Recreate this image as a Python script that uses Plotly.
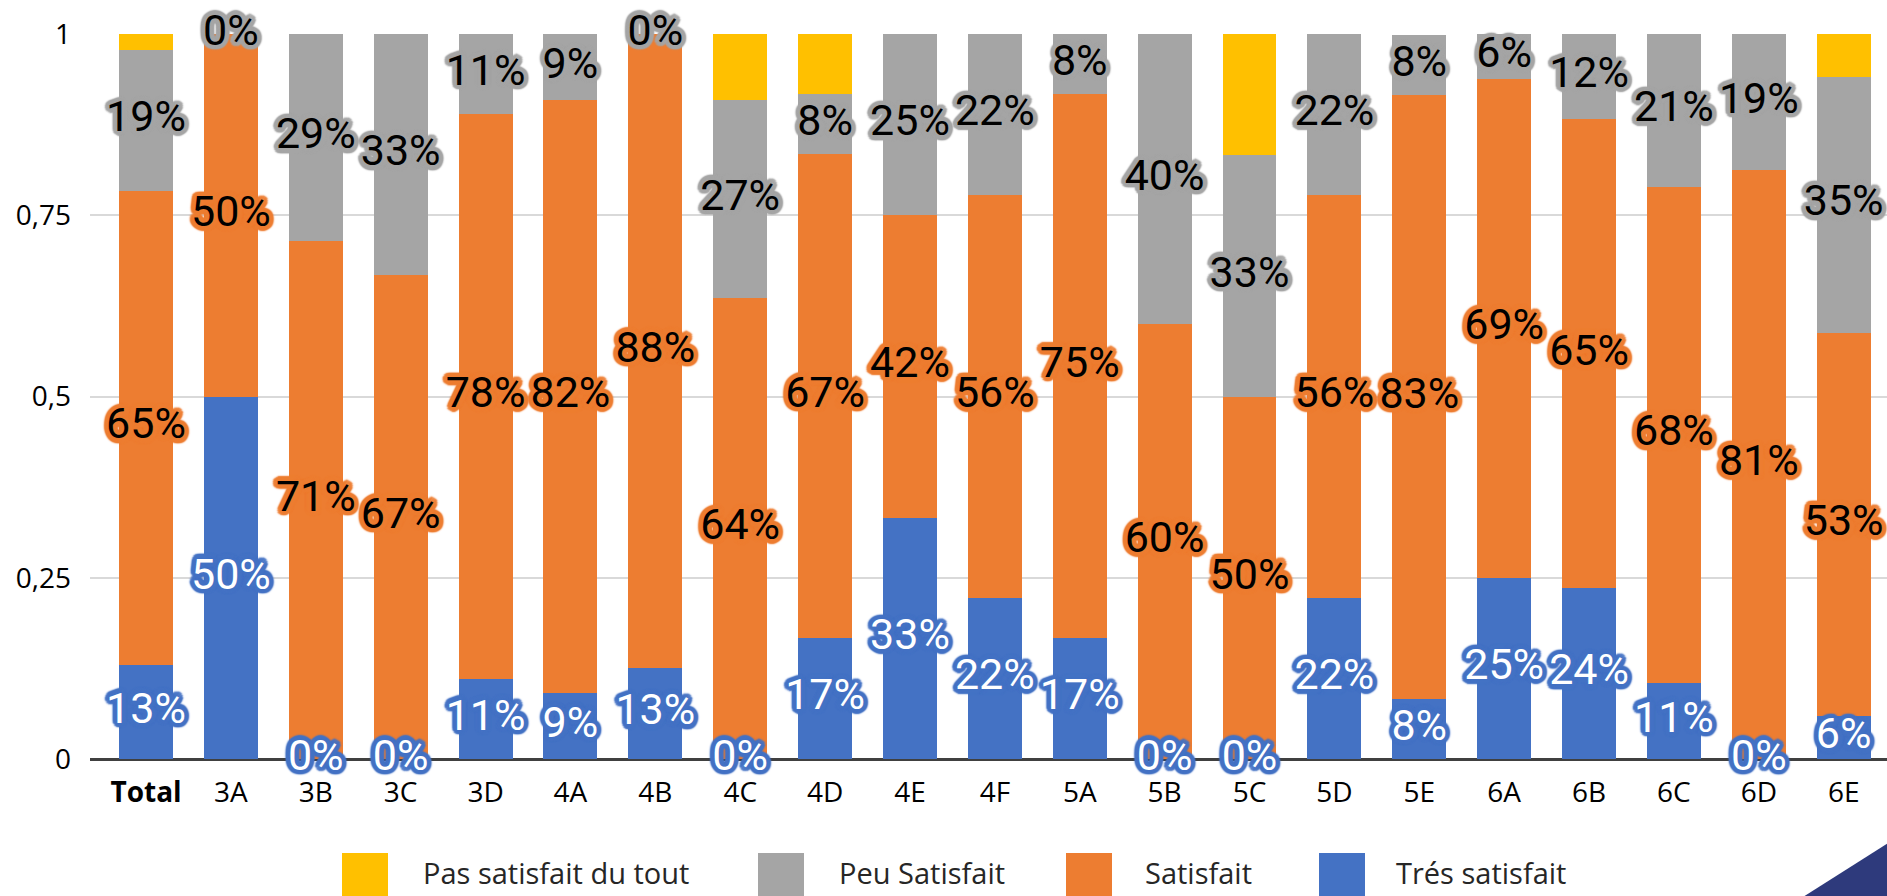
import math
import plotly.graph_objects as go

categories = ["Total", "3A", "3B", "3C", "3D", "4A", "4B", "4C", "4D", "4E", "4F",
              "5A", "5B", "5C", "5D", "5E", "6A", "6B", "6C", "6D", "6E"]
tres_satisfait = [0.13, 0.5, 0, 0, 0.111, 0.091, 0.125, 0, 0.167, 0.333, 0.222,
                  0.167, 0, 0, 0.222, 0.083, 0.25, 0.2353, 0.1053, 0, 0.059]
satisfait = [0.654, 0.5, 0.714, 0.667, 0.778, 0.818, 0.875, 0.636, 0.667, 0.417, 0.556,
             0.75, 0.6, 0.5, 0.556, 0.833, 0.6875, 0.647, 0.684, 0.8125, 0.529]
peu_satisfait = [0.194, 0, 0.286, 0.333, 0.111, 0.091, 0, 0.273, 0.083, 0.25, 0.222,
                 0.083, 0.4, 0.333, 0.222, 0.083, 0.0625, 0.118, 0.211, 0.1875, 0.353]
pas_satisfait = [0.022, 0, 0, 0, 0, 0, 0, 0.091, 0.083, 0, 0,
                 0, 0, 0.167, 0, 0, 0, 0, 0, 0, 0.059]

y_tick_vals = [0, 0.25, 0.5, 0.75, 1]
y_tick_text = ["0", "0,25", "0,5", "0,75", "1"]

series = [
    ("Trés satisfait", tres_satisfait, "#4472C4", "#FFFFFF", True),
    ("Satisfait", satisfait, "#ED7D31", "#000000", True),
    ("Peu Satisfait", peu_satisfait, "#A5A5A5", "#000000", True),
    ("Pas satisfait du tout", pas_satisfait, "#FFC000", "#000000", False),
]

# pixel geometry of the plot area
W, H = 1887, 896
ML, MR, MT, MB = 90, 0, 34, 137
PW, PH = W - ML - MR, H - MT - MB


def px(x):
    return (x - ML) / PW


def py(y):
    return (H - MB - y) / PH


def glow(c, r=4.5, n=16):
    parts = []
    for k in range(n):
        a = 2 * math.pi * k / n
        parts.append(f"{r * math.cos(a):.1f}px {r * math.sin(a):.1f}px 1.5px {c}")
    parts.append(f"0 0 3px {c}")
    return ", ".join(parts)


fig = go.Figure()
for name, vals, col, _, _ in series:
    fig.add_trace(go.Bar(x=categories, y=vals, name=name, marker=dict(color=col, line=dict(width=0)),
                         showlegend=False, hoverinfo="skip"))

# data labels at segment centres
base = [0.0] * len(categories)
for name, vals, col, tcol, show in series:
    centers = [b + v / 2 for b, v in zip(base, vals)]
    labels = [f"{int(v * 100 + 0.5)}%" for v in vals]
    if show:
        fig.add_trace(go.Scatter(x=categories, y=centers, mode="text", text=labels,
                                 textposition="middle center", cliponaxis=False,
                                 textfont=dict(family="Roboto", size=43, color=tcol, shadow=glow(col)),
                                 showlegend=False, hoverinfo="skip"))
    base = [b + v for b, v in zip(base, vals)]

# custom legend
legend_items = [
    ("Pas satisfait du tout", "#FFC000", 342, 421),
    ("Peu Satisfait", "#A5A5A5", 758, 837),
    ("Satisfait", "#ED7D31", 1066, 1143),
    ("Trés satisfait", "#4472C4", 1319, 1394),
]
shapes = []
annotations = []
for name, col, sx, tx in legend_items:
    shapes.append(dict(type="rect", xref="paper", yref="paper", x0=px(sx), x1=px(sx + 46),
                       y0=py(853), y1=py(899), fillcolor=col, line=dict(width=0), layer="above"))
    annotations.append(dict(xref="paper", yref="paper", x=px(tx), y=py(872), text=name,
                            showarrow=False, xanchor="left", yanchor="middle",
                            font=dict(family="Open Sans", size=29, color="#262626")))

# navy corner triangle
shapes.append(dict(type="path", xref="paper", yref="paper",
                   path=f"M {px(1803)},{py(897)} L {px(1888)},{py(843)} L {px(1888)},{py(897)} Z",
                   fillcolor="#2E3A7C", line=dict(width=0), layer="above"))

ticktext = [f"<b>{c}</b>" if c == "Total" else c for c in categories]

fig.update_layout(
    width=W, height=H,
    margin=dict(l=ML, r=MR, t=MT, b=MB, pad=0),
    barmode="stack", bargap=0.365,
    plot_bgcolor="white", paper_bgcolor="white",
    shapes=shapes, annotations=annotations,
    showlegend=False,
    xaxis=dict(type="category", range=[-0.66, 20.51], tickvals=categories, ticktext=ticktext,
               showgrid=False, zeroline=False, showline=False, ticks="",
               tickfont=dict(family="Open Sans", size=28, color="#000000"), ticklabelstandoff=14),
    yaxis=dict(range=[0, 1], tickvals=y_tick_vals, ticktext=y_tick_text,
               showgrid=True, gridcolor="#D9D9D9", gridwidth=2,
               zeroline=True, zerolinecolor="#404040", zerolinewidth=3, showline=False, ticks="",
               tickfont=dict(family="Open Sans", size=28, color="#000000"), ticklabelstandoff=18),
)

fig.write_html("out.html", config={"displayModeBar": False},
               post_script="document.body.style.margin='0';document.body.style.overflow='hidden';")
